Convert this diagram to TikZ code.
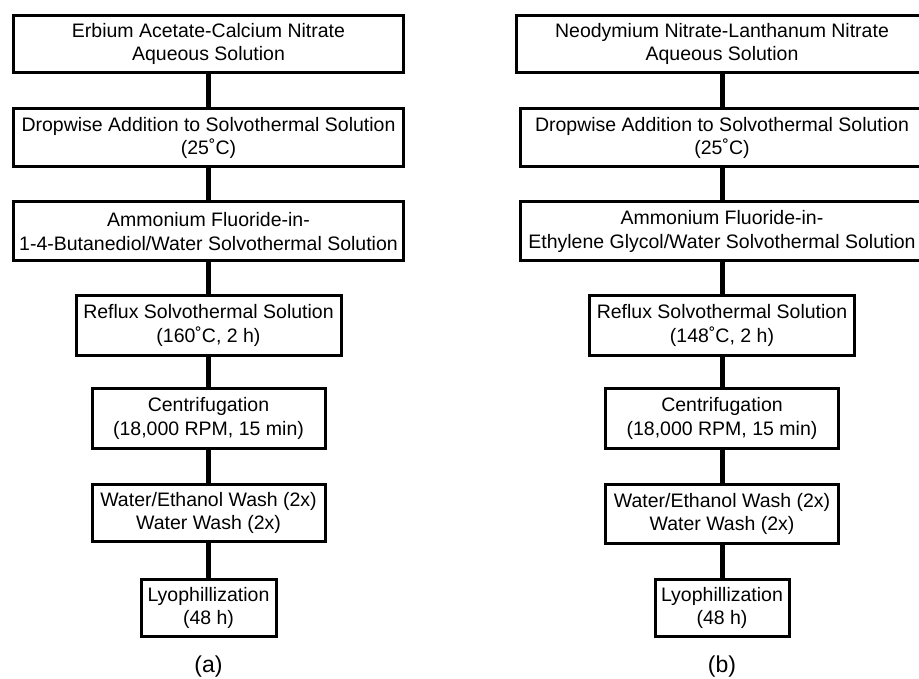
\documentclass[tikz,border=0pt]{standalone}
\usepackage{fontspec}
\setmainfont{Liberation Sans}
\begin{document}
\begin{tikzpicture}[x=1pt,y=-1pt,
  stepbox/.style={draw=black,line width=3pt,fill=white,inner sep=0pt,align=center,
    font=\fontsize{19.5}{23.5}\selectfont},
  link/.style={line width=5pt,black},
  captext/.style={inner sep=0pt,font=\fontsize{23}{26}\selectfont}]
\clip (0,0) rectangle (919,679);
\fill[white] (0,0) rectangle (919,679);
% left column
\node[stepbox,minimum width=390pt,minimum height=57pt] (a1) at (208.5,44) {Erbium Acetate-Calcium Nitrate\\Aqueous Solution};
\node[stepbox,minimum width=390pt,minimum height=58pt] (a2) at (208.5,138) {Dropwise Addition to Solvothermal Solution\\(25˚C)};
\node[stepbox,minimum width=390pt,minimum height=59pt] (a3) at (208.5,231.5) {Ammonium Fluoride-in-\\1-4-Butanediol/Water Solvothermal Solution};
\node[stepbox,minimum width=265pt,minimum height=60pt] (a4) at (208.5,325.5) {Reflux Solvothermal Solution\\(160˚C, 2 h)};
\node[stepbox,minimum width=233pt,minimum height=60pt] (a5) at (208.5,418.5) {Centrifugation\\(18,000 RPM, 15 min)};
\node[stepbox,minimum width=233pt,minimum height=57pt] (a6) at (208.5,513) {Water/Ethanol Wash (2x)\\Water Wash (2x)};
\node[stepbox,minimum width=135pt,minimum height=57pt] (a7) at (208.5,608) {Lyophillization\\(48 h)};
\node[captext] (la) at (208.5,667) {(a)};
% right column
\node[stepbox,minimum width=411pt,minimum height=57pt] (b1) at (722,44) {Neodymium Nitrate-Lanthanum Nitrate\\Aqueous Solution};
\node[stepbox,minimum width=403pt,minimum height=58pt] (b2) at (722,138) {Dropwise Addition to Solvothermal Solution\\(25˚C)};
\node[stepbox,minimum width=403pt,minimum height=59pt] (b3) at (722,231.5) {Ammonium Fluoride-in-\\Ethylene Glycol/Water Solvothermal Solution};
\node[stepbox,minimum width=265pt,minimum height=60pt] (b4) at (722,325.5) {Reflux Solvothermal Solution\\(148˚C, 2 h)};
\node[stepbox,minimum width=233pt,minimum height=60pt] (b5) at (722,418.5) {Centrifugation\\(18,000 RPM, 15 min)};
\node[stepbox,minimum width=233pt,minimum height=59pt] (b6) at (722,514) {Water/Ethanol Wash (2x)\\Water Wash (2x)};
\node[stepbox,minimum width=134pt,minimum height=57pt] (b7) at (722,608) {Lyophillization\\(48 h)};
\node[captext] (lb) at (722,667) {(b)};
% connectors
\foreach \u/\v in {a1/a2,a2/a3,a3/a4,a4/a5,a5/a6,a6/a7,b1/b2,b2/b3,b3/b4,b4/b5,b5/b6,b6/b7}
  \draw[link] (\u.south) -- (\v.north);
\end{tikzpicture}
\end{document}
